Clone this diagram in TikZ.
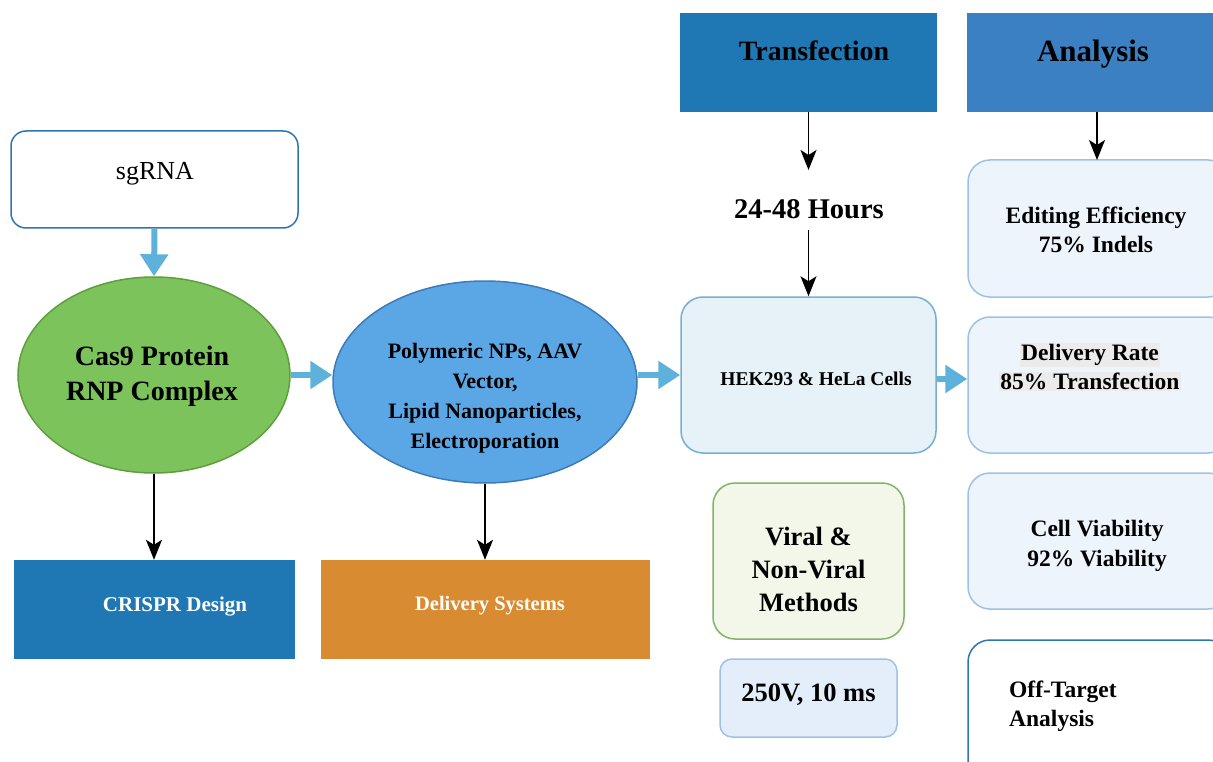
\documentclass[tikz,border=0pt]{standalone}
\usepackage{fontspec}
\setmainfont{Liberation Serif}
\usetikzlibrary{arrows.meta,shapes.geometric}
\definecolor{bordblue}{HTML}{2E75B6}
\definecolor{greenfill}{HTML}{7DC35B}
\definecolor{greenbord}{HTML}{5E9E3E}
\definecolor{ellblue}{HTML}{5BA7E6}
\definecolor{ellbord}{HTML}{3D7AB8}
\definecolor{hekfill}{HTML}{E6F1F8}
\definecolor{hekbord}{HTML}{77AED3}
\definecolor{hdrtrans}{HTML}{1F77B4}
\definecolor{hdranal}{HTML}{3B80C3}
\definecolor{anfill}{HTML}{EDF4FC}
\definecolor{anbord}{HTML}{9CC3E5}
\definecolor{virfill}{HTML}{F2F7E9}
\definecolor{virbord}{HTML}{82B366}
\definecolor{vfill}{HTML}{E3EEFA}
\definecolor{crisprc}{HTML}{1F77B4}
\definecolor{delivc}{HTML}{D98B31}
\definecolor{arrblue}{HTML}{5DB1DA}
\definecolor{hlgray}{HTML}{EBEBEB}
\tikzset{
  boxr/.style={draw, rectangle, rounded corners=#1, line width=1.5pt, inner sep=0pt},
  flat/.style={rectangle, inner sep=0pt},
  txt/.style={inner sep=0pt, align=center, font=\bfseries},
  barrow/.style={line width=6pt, arrblue, -{Triangle[length=22pt,width=27pt]}},
  karrow/.style={line width=1.5pt, black, -{Stealth[length=20pt,width=16pt,inset=5pt]}},
}
\begin{document}
\begin{tikzpicture}[x=1pt,y=-1pt]
\clip (0,0) rectangle (1213,762);
\fill[white] (0,0) rectangle (1213,762);
% sgRNA
\node[boxr=15pt, draw=bordblue, fill=white, minimum width=287pt, minimum height=97pt] (sg) at (154.5,179.5) {};
\node[inner sep=0pt, font=\fontsize{26}{30}\selectfont] (sgT) at (155,174) {sgRNA};
% Cas9 ellipse
\node[ellipse, draw=greenbord, fill=greenfill, line width=1.5pt, minimum width=272pt, minimum height=196pt, inner sep=0pt] (cas) at (154,375) {};
\node[txt, font=\bfseries\fontsize{28}{35}\selectfont] (casT) at (152,376) {Cas9 Protein\\RNP Complex};
% Delivery ellipse
\node[ellipse, draw=ellbord, fill=ellblue, line width=1.5pt, minimum width=304pt, minimum height=202pt, inner sep=0pt] (del) at (485,382) {};
\node[txt, font=\bfseries\fontsize{22}{30}\selectfont] (delT) at (485,398) {Polymeric NPs, AAV\\Vector,\\Lipid Nanoparticles,\\Electroporation};
% HEK box
\node[boxr=22pt, draw=hekbord, fill=hekfill, minimum width=255pt, minimum height=156pt] (hek) at (808.5,375) {};
\node[txt, font=\bfseries\fontsize{19.5}{24}\selectfont] (hekT) at (816,379) {HEK293 \& HeLa Cells};
% Transfection header
\node[flat, fill=hdrtrans, minimum width=257pt, minimum height=99pt] (tr) at (808.5,62.5) {};
\node[txt, font=\bfseries\fontsize{28}{34}\selectfont] (trT) at (814,51) {Transfection};
\node[txt, font=\bfseries\fontsize{28.5}{34}\selectfont] (hrs) at (809,209) {24-48 Hours};
\coordinate (hrsTop) at (808.5,170);
\coordinate (hrsBot) at (808.5,230);
% Analysis header
\node[flat, fill=hdranal, minimum width=250pt, minimum height=99pt] (an) at (1092,62.5) {};
\node[txt, font=\bfseries\fontsize{31}{36}\selectfont] (anT) at (1093,54) {Analysis};
% Analysis boxes
\node[boxr=22pt, draw=anbord, fill=anfill, minimum width=262pt, minimum height=137pt] (ed) at (1099,228.5) {};
\node[txt, font=\bfseries\fontsize{23.5}{29}\selectfont] (edT) at (1096,229.5) {Editing Efficiency\\75\% Indels};
\coordinate (edTop) at (1097,160);
\node[boxr=22pt, draw=anbord, fill=anfill, minimum width=262pt, minimum height=136pt] (dr) at (1099,385) {};
\node[txt, font=\bfseries\fontsize{23.5}{30}\selectfont] (drT) at (1090,367) {\setlength{\fboxsep}{1pt}\colorbox{hlgray}{Delivery Rate}\\[-1pt]\setlength{\fboxsep}{1pt}\colorbox{hlgray}{85\% Transfection}};
\node[boxr=22pt, draw=anbord, fill=anfill, minimum width=262pt, minimum height=136pt] (cv) at (1099,541) {};
\node[txt, font=\bfseries\fontsize{23.5}{30}\selectfont] (cvT) at (1097,546) {Cell Viability\\92\% Viability};
\node[boxr=22pt, draw=bordblue, fill=white, minimum width=262pt, minimum height=150pt] (ot) at (1099,715) {};
\node[inner sep=0pt, align=left, anchor=west, font=\bfseries\fontsize{23.5}{29}\selectfont] (otT) at (1009,706.5) {Off-Target\\Analysis};
% Viral box
\node[boxr=22pt, draw=virbord, fill=virfill, minimum width=191pt, minimum height=156pt] (vir) at (808.5,561) {};
\node[txt, font=\bfseries\fontsize{26.5}{33}\selectfont] (virT) at (808.5,569) {Viral \&\\Non-Viral\\Methods};
% 250V box
\node[boxr=12pt, draw=anbord, fill=vfill, minimum width=177pt, minimum height=78pt] (volt) at (808.5,698) {};
\node[txt, font=\bfseries\fontsize{26.5}{32}\selectfont] (voltT) at (808.5,695) {250V, 10 ms};
% Bottom category boxes
\node[flat, fill=crisprc, minimum width=281pt, minimum height=99pt] (cr) at (154.5,609.5) {};
\node[txt, text=white, font=\bfseries\fontsize{21}{26}\selectfont] (crT) at (175,607) {CRISPR Design};
\node[flat, fill=delivc, minimum width=329pt, minimum height=99pt] (ds) at (485.5,609.5) {};
\node[txt, text=white, font=\bfseries\fontsize{20.5}{26}\selectfont] (dsT) at (490,606) {Delivery Systems};
% Thick blue arrows
\draw[barrow] (sg.south) -- (cas.north);
\draw[barrow] (cas.east) -- (cas.east -| del.west);
\draw[barrow] (del.east |- cas.east) -- (cas.east -| hek.west);
\draw[barrow] (hek.east |- hekT) -- (hekT -| dr.west);
% Black arrows
\draw[karrow] (tr.south) -- (hrsTop);
\draw[karrow] (hrsBot) -- (hek.north);
\draw[karrow] (an.south -| edTop) -- (edTop);
\draw[karrow] (cas.south) -- (cas.south |- cr.north);
\draw[karrow] (del.south) -- (del.south |- ds.north);
\end{tikzpicture}
\end{document}
